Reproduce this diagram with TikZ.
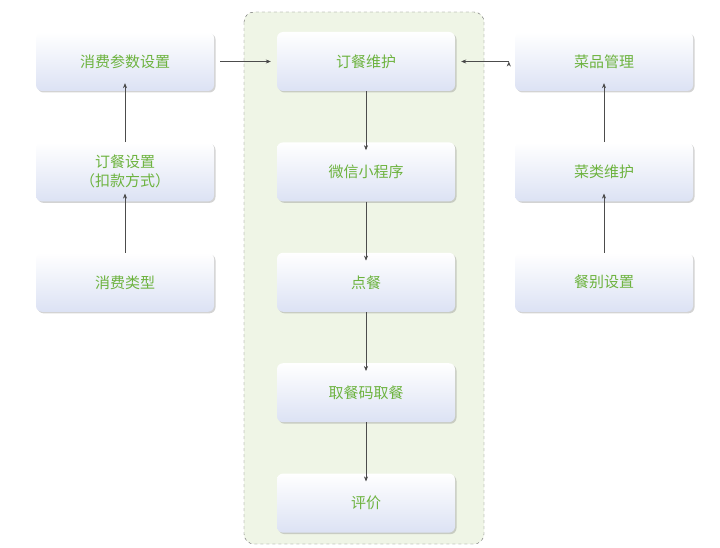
\documentclass[tikz,border=0pt]{standalone}
\usepackage{fontspec}
\setmainfont{Noto Sans CJK SC}
\usetikzlibrary{positioning,shadows,arrows.meta}
\definecolor{txtgreen}{HTML}{6DB33F}
\definecolor{boxlow}{HTML}{DCE2F4}
\definecolor{panel}{HTML}{EFF5E6}
\tikzset{main node/.style={rectangle,rounded corners=6pt,top color=white,bottom color=boxlow,
  draw=none,minimum width=178pt,minimum height=59pt,inner sep=0pt,align=center,
  text=txtgreen,font=\fontsize{15}{19}\selectfont,drop shadow={shadow xshift=1.5pt,shadow yshift=-1.5pt,opacity=.35}},
  link/.style={draw=black!70,semithick,-{Stealth[length=5pt,width=4pt]}},
}
\begin{document}
\begin{tikzpicture}[x=1pt,y=-1pt]
	\useasboundingbox (0,0) rectangle (720,548);
	\draw[dashed,draw=black!60,fill=panel,rounded corners=10pt] (244,12) rectangle (484,544);
	
	\node[main node] (order) at (366,61.5) {订餐维护};
	\node[main node] (mini) [below =51pt of order] {微信小程序};
	\node[main node] (dish) [below =51pt of mini] {点餐};
	\node[main node] (code) [below =51pt of dish] {取餐码取餐};
	\node[main node] (rate) [below =51pt of code] {评价};
	
	\node[main node] (param) at (125,61.5) {消费参数设置};
	\node[main node] (pay) [below =51pt of param] {订餐设置\\（扣款方式）};
	\node[main node] (kind) [below =51pt of pay] {消费类型};
	
	\node[main node] (menu) at (604,61.5) {菜品管理};
	\node[main node] (cat) [below =51pt of menu] {菜类维护};
	\node[main node] (meal) [below =51pt of cat] {餐别设置};
	
	\path[link]
	(order) edge ([yshift=-8pt]mini.north)
	(mini) edge ([yshift=-8pt]dish.north)
	(dish) edge ([yshift=-8pt]code.north)
	(code) edge ([yshift=-8pt]rate.north)
	(kind) edge ([yshift=8pt]pay.south)
	(pay) edge ([yshift=8pt]param.south)
	(meal) edge ([yshift=8pt]cat.south)
	(cat) edge ([yshift=8pt]menu.south)
	([xshift=6pt]param.east) edge ([xshift=-6pt]order.west)
	([xshift=-6pt]menu.west) edge ([xshift=6pt]order.east);
	
\end{tikzpicture}
\end{document}
